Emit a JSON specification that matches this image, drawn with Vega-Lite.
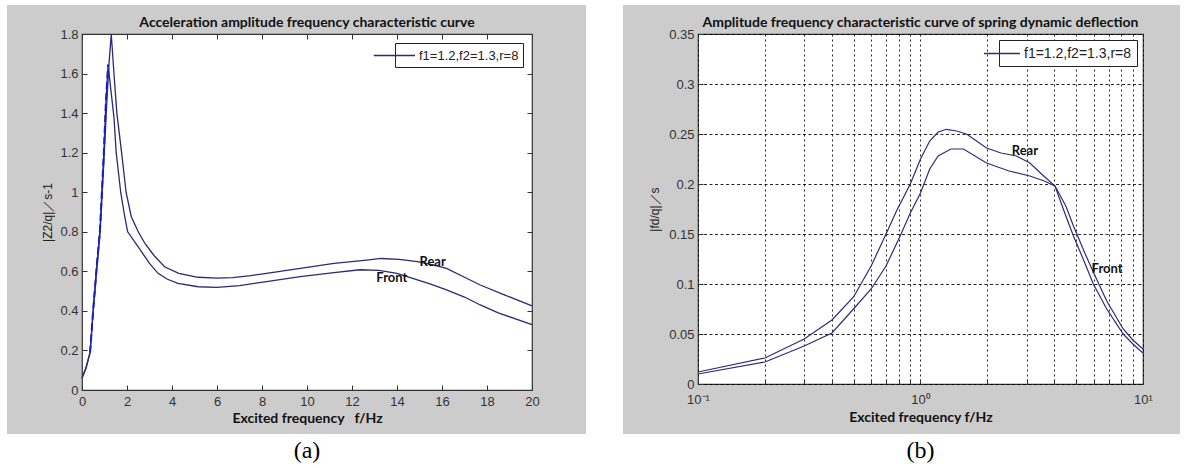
{
  "$schema": "https://vega.github.io/schema/vega-lite/v6.json",
  "background": "#cccccc",
  "padding": 0,
  "columns": 9,
  "spacing": 0,
  "bounds": "flush",
  "center": true,
  "resolve": {"scale": {"color": "independent"}, "legend": {"color": "independent"}},
  "datasets": {
    "accel": [
      {"curve":"Front","f":0,"v":0.06},{"curve":"Front","f":0.18,"v":0.115},{"curve":"Front","f":0.36,"v":0.19},{"curve":"Front","f":0.5,"v":0.41},{"curve":"Front","f":0.65,"v":0.62},{"curve":"Front","f":0.8,"v":0.81},{"curve":"Front","f":0.97,"v":1.2},{"curve":"Front","f":1.06,"v":1.45},{"curve":"Front","f":1.16,"v":1.645},{"curve":"Front","f":1.28,"v":1.52},{"curve":"Front","f":1.42,"v":1.38},{"curve":"Front","f":1.52,"v":1.2},{"curve":"Front","f":1.72,"v":1.0},{"curve":"Front","f":1.9,"v":0.876},{"curve":"Front","f":2.03,"v":0.8},{"curve":"Front","f":2.49,"v":0.725},{"curve":"Front","f":3.0,"v":0.64},{"curve":"Front","f":3.38,"v":0.59},{"curve":"Front","f":3.8,"v":0.56},{"curve":"Front","f":4.27,"v":0.539},{"curve":"Front","f":5.16,"v":0.522},{"curve":"Front","f":6.0,"v":0.519},{"curve":"Front","f":7.0,"v":0.528},{"curve":"Front","f":8.2,"v":0.548},{"curve":"Front","f":9.7,"v":0.573},{"curve":"Front","f":11.2,"v":0.593},{"curve":"Front","f":12.35,"v":0.608},{"curve":"Front","f":13.2,"v":0.605},{"curve":"Front","f":14.0,"v":0.59},{"curve":"Front","f":14.7,"v":0.565},{"curve":"Front","f":15.5,"v":0.535},{"curve":"Front","f":16.2,"v":0.506},{"curve":"Front","f":17.0,"v":0.47},{"curve":"Front","f":17.7,"v":0.43},{"curve":"Front","f":18.5,"v":0.39},{"curve":"Front","f":20,"v":0.33},
      {"curve":"Rear","f":0,"v":0.06},{"curve":"Rear","f":0.18,"v":0.11},{"curve":"Rear","f":0.36,"v":0.19},{"curve":"Rear","f":0.5,"v":0.4},{"curve":"Rear","f":0.65,"v":0.6},{"curve":"Rear","f":0.8,"v":0.79},{"curve":"Rear","f":0.97,"v":1.15},{"curve":"Rear","f":1.1,"v":1.45},{"curve":"Rear","f":1.2,"v":1.65},{"curve":"Rear","f":1.3,"v":1.8},{"curve":"Rear","f":1.42,"v":1.6},{"curve":"Rear","f":1.55,"v":1.4},{"curve":"Rear","f":1.76,"v":1.2},{"curve":"Rear","f":1.96,"v":1.0},{"curve":"Rear","f":2.19,"v":0.876},{"curve":"Rear","f":2.5,"v":0.8},{"curve":"Rear","f":2.79,"v":0.742},{"curve":"Rear","f":3.2,"v":0.68},{"curve":"Rear","f":3.67,"v":0.623},{"curve":"Rear","f":4.3,"v":0.59},{"curve":"Rear","f":5.16,"v":0.57},{"curve":"Rear","f":6.0,"v":0.566},{"curve":"Rear","f":6.7,"v":0.568},{"curve":"Rear","f":7.5,"v":0.578},{"curve":"Rear","f":8.2,"v":0.59},{"curve":"Rear","f":9.7,"v":0.615},{"curve":"Rear","f":11.2,"v":0.64},{"curve":"Rear","f":12.65,"v":0.657},{"curve":"Rear","f":13.3,"v":0.665},{"curve":"Rear","f":14.1,"v":0.66},{"curve":"Rear","f":14.9,"v":0.649},{"curve":"Rear","f":15.5,"v":0.635},{"curve":"Rear","f":16.2,"v":0.615},{"curve":"Rear","f":17.0,"v":0.57},{"curve":"Rear","f":17.7,"v":0.531},{"curve":"Rear","f":18.8,"v":0.48},{"curve":"Rear","f":20,"v":0.425}
    ],
    "labelsA": [
      {"text":"Rear","f":15.0,"v":0.647},
      {"text":"Front","f":13.08,"v":0.566}
    ],
    "defl": [
      {"curve":"Rear","f":0.1,"v":0.012},{"curve":"Rear","f":0.2,"v":0.026},{"curve":"Rear","f":0.3,"v":0.045},{"curve":"Rear","f":0.4,"v":0.064},{"curve":"Rear","f":0.5,"v":0.087},{"curve":"Rear","f":0.6,"v":0.118},{"curve":"Rear","f":0.7,"v":0.15},{"curve":"Rear","f":0.78,"v":0.173},{"curve":"Rear","f":0.9,"v":0.2},{"curve":"Rear","f":1.0,"v":0.225},{"curve":"Rear","f":1.1,"v":0.243},{"curve":"Rear","f":1.2,"v":0.252},{"curve":"Rear","f":1.31,"v":0.2547},{"curve":"Rear","f":1.45,"v":0.253},{"curve":"Rear","f":1.61,"v":0.25},{"curve":"Rear","f":1.98,"v":0.236},{"curve":"Rear","f":2.3,"v":0.231},{"curve":"Rear","f":2.7,"v":0.228},{"curve":"Rear","f":3.1,"v":0.221},{"curve":"Rear","f":3.5,"v":0.21},{"curve":"Rear","f":4.02,"v":0.198},{"curve":"Rear","f":4.5,"v":0.168},{"curve":"Rear","f":4.87,"v":0.148},{"curve":"Rear","f":5.5,"v":0.12},{"curve":"Rear","f":5.98,"v":0.1},{"curve":"Rear","f":6.87,"v":0.075},{"curve":"Rear","f":8.15,"v":0.05},{"curve":"Rear","f":9.0,"v":0.04},{"curve":"Rear","f":10,"v":0.031},
      {"curve":"Front","f":0.1,"v":0.01},{"curve":"Front","f":0.2,"v":0.022},{"curve":"Front","f":0.3,"v":0.038},{"curve":"Front","f":0.4,"v":0.051},{"curve":"Front","f":0.5,"v":0.075},{"curve":"Front","f":0.6,"v":0.095},{"curve":"Front","f":0.7,"v":0.118},{"curve":"Front","f":0.81,"v":0.148},{"curve":"Front","f":0.9,"v":0.171},{"curve":"Front","f":1.0,"v":0.191},{"curve":"Front","f":1.1,"v":0.215},{"curve":"Front","f":1.2,"v":0.228},{"curve":"Front","f":1.37,"v":0.235},{"curve":"Front","f":1.56,"v":0.235},{"curve":"Front","f":1.98,"v":0.221},{"curve":"Front","f":2.5,"v":0.213},{"curve":"Front","f":3.1,"v":0.208},{"curve":"Front","f":3.6,"v":0.203},{"curve":"Front","f":4.02,"v":0.198},{"curve":"Front","f":4.5,"v":0.178},{"curve":"Front","f":4.87,"v":0.158},{"curve":"Front","f":5.5,"v":0.13},{"curve":"Front","f":5.98,"v":0.112},{"curve":"Front","f":6.87,"v":0.083},{"curve":"Front","f":8.15,"v":0.055},{"curve":"Front","f":9.0,"v":0.044},{"curve":"Front","f":10,"v":0.035}
    ],
    "labelsB": [
      {"text":"Rear","f":2.57,"v":0.233},
      {"text":"Front","f":5.875,"v":0.115}
    ],
    "capA": [{"caption":"(a)"}],
    "capB": [{"caption":"(b)"}]
  },
  "config": {
    "view": {"stroke": null},
    "axis": {"labelFont":"Liberation Sans","labelFontSize":13,"labelColor":"#333","tickColor":"#333","domain":false,"tickSize":-5,"labelFlush":false,"titleFont":"Lato","titleFontSize":14,"titleFontWeight":"bold","titleColor":"#111","grid":false},
    "axisY": {"titleFont":"Liberation Sans","titleFontWeight":"normal","titleFontSize":12,"titleColor":"#222"},
    "legend": {"orient":"top-right","fillColor":"white","strokeColor":"#222","padding":4,"symbolStrokeWidth":1.3,"labelFont":"Liberation Sans","labelFontSize":13,"labelColor":"#222","labelOffset":3,"symbolSize":225},
    "title": {"font":"Lato","fontSize":14,"fontWeight":"bold","color":"#111","anchor":"middle","frame":"group"}
  },
  "concat": [
    {"width":7,"height":5,"data":{"values":[]},"mark":"point","view":{"fill":"white"}},
    {"width":75,"height":5,"data":{"values":[]},"mark":"point","view":{"fill":"white"}},
    {"width":450,"height":5,"data":{"values":[]},"mark":"point","view":{"fill":"white"}},
    {"width":54,"height":5,"data":{"values":[]},"mark":"point","view":{"fill":"white"}},
    {"width":37,"height":5,"data":{"values":[]},"mark":"point","view":{"fill":"white"}},
    {"width":75,"height":5,"data":{"values":[]},"mark":"point","view":{"fill":"white"}},
    {"width":445,"height":5,"data":{"values":[]},"mark":"point","view":{"fill":"white"}},
    {"width":37,"height":5,"data":{"values":[]},"mark":"point","view":{"fill":"white"}},
    {"width":9,"height":5,"data":{"values":[]},"mark":"point","view":{"fill":"white"}},

    {"width":7,"height":29,"data":{"values":[]},"mark":"point","view":{"fill":"white"}},
    {"width":1,"height":1,"data":{"values":[]},"mark":"point"},
    {"width":1,"height":1,"data":{"values":[]},"mark":"point"},
    {"width":1,"height":1,"data":{"values":[]},"mark":"point"},
    {"width":37,"height":29,"data":{"values":[]},"mark":"point","view":{"fill":"white"}},
    {"width":1,"height":1,"data":{"values":[]},"mark":"point"},
    {"width":1,"height":1,"data":{"values":[]},"mark":"point"},
    {"width":1,"height":1,"data":{"values":[]},"mark":"point"},
    {"width":9,"height":29,"data":{"values":[]},"mark":"point","view":{"fill":"white"}},

    {"width":7,"height":356,"data":{"values":[]},"mark":"point","view":{"fill":"white"}},
    {"width":1,"height":1,"data":{"values":[]},"mark":"point"},
    {
      "width":450,"height":356,
      "view":{"stroke":"#333","strokeWidth":1.2,"fill":"white"},
      "title":{"text":"Acceleration amplitude frequency characteristic curve","offset":-2},
      "data":{"name":"accel"},
      "layer":[
        {
          "mark":{"type":"line","strokeWidth":1.3},
          "encoding":{
            "x":{"field":"f","type":"quantitative","scale":{"domain":[0,20],"nice":false},
                 "axis":{"values":[0,2,4,6,8,10,12,14,16,18,20],"title":"Excited frequency\u00a0\u00a0\u00a0f/Hz","labelPadding":10,"titlePadding":3}},
            "y":{"field":"v","type":"quantitative","scale":{"domain":[0,1.8],"nice":false},
                 "axis":{"values":[0,0.2,0.4,0.6,0.8,1,1.2,1.4,1.6,1.8],"format":"~g","title":"|Z2/q|／s-1","labelPadding":9,"titlePadding":5}},
            "detail":{"field":"curve"},
            "color":{"datum":"f1=1.2,f2=1.3,r=8","scale":{"range":["#2a2a75"]},
                     "legend":{"title":null,"offset":9,"symbolType":"M-4.5,0H1","padding":4}}
          }
        },
        {
          "transform":[{"filter":"datum.curve == 'Front' && datum.f >= 0.3 && datum.f <= 1.16"}],
          "mark":{"type":"line","color":"#1a1ad0","strokeWidth":2,"strokeDash":[7,4]},
          "encoding":{
            "x":{"field":"f","type":"quantitative","axis":{"orient":"top","values":[0,2,4,6,8,10,12,14,16,18,20],"labels":false,"title":null}},
            "y":{"field":"v","type":"quantitative","axis":{"orient":"right","values":[0,0.2,0.4,0.6,0.8,1,1.2,1.4,1.6,1.8],"labels":false,"title":null}}
          }
        },
        {
          "data":{"name":"labelsA"},
          "mark":{"type":"text","align":"left","baseline":"middle","font":"Lato","fontWeight":"bold","fontSize":13,"color":"#111"},
          "encoding":{
            "x":{"field":"f","type":"quantitative","axis":null},
            "y":{"field":"v","type":"quantitative","axis":null},
            "text":{"field":"text"}
          }
        }
      ],
      "resolve":{"axis":{"x":"independent","y":"independent"}}
    },
    {"width":1,"height":1,"data":{"values":[]},"mark":"point"},
    {"width":37,"height":356,"data":{"values":[]},"mark":"point","view":{"fill":"white"}},
    {"width":1,"height":1,"data":{"values":[]},"mark":"point"},
    {
      "width":445,"height":350,
      "view":{"stroke":"#333","strokeWidth":1.2,"fill":"white"},
      "title":{"text":"Amplitude frequency characteristic curve of spring dynamic deflection","offset":-2},
      "layer":[
        {
          "data":{"name":"defl"},
          "mark":{"type":"line","strokeWidth":1.2},
          "encoding":{
            "x":{"field":"f","type":"quantitative","scale":{"type":"log","domain":[0.1,10],"nice":false},
                 "axis":{"values":[0.1,0.2,0.3,0.4,0.5,0.6,0.7,0.8,0.9,1,2,3,4,5,6,7,8,9,10],
                         "labelExpr":"datum.value == 0.1 ? '10⁻¹' : datum.value == 1 ? '10⁰' : datum.value == 10 ? '10¹' : ''",
                         "grid":true,"gridColor":"#000","gridDash":[2,3],"gridOpacity":0.85,
                         "title":"Excited frequency f/Hz","labelPadding":14,"titlePadding":4}},
            "y":{"field":"v","type":"quantitative","scale":{"domain":[0,0.35],"nice":false},
                 "axis":{"values":[0,0.05,0.1,0.15,0.2,0.25,0.3,0.35],"format":"~g",
                         "grid":true,"gridColor":"#000","gridDash":[3,2.5],"gridOpacity":0.85,
                         "title":"|fd/q|／s","labelPadding":9,"titlePadding":7}},
            "detail":{"field":"curve"},
            "color":{"datum":"f1=1.2,f2=1.3,r=8","scale":{"range":["#2d2d78"]},
                     "legend":{"title":null,"offset":6,"symbolType":"M-3.8,0H1","padding":5,"labelFontSize":14}}
          }
        },
        {
          "data":{"name":"labelsB"},
          "mark":{"type":"text","align":"left","baseline":"middle","font":"Lato","fontWeight":"bold","fontSize":13,"color":"#111"},
          "encoding":{
            "x":{"field":"f","type":"quantitative"},
            "y":{"field":"v","type":"quantitative"},
            "text":{"field":"text"}
          }
        }
      ]
    },
    {"width":1,"height":1,"data":{"values":[]},"mark":"point"},
    {"width":9,"height":356,"data":{"values":[]},"mark":"point","view":{"fill":"white"}},

    {"width":7,"height":44,"data":{"values":[]},"mark":"point","view":{"fill":"white"}},
    {"width":1,"height":1,"data":{"values":[]},"mark":"point"},
    {"width":1,"height":1,"data":{"values":[]},"mark":"point"},
    {"width":1,"height":1,"data":{"values":[]},"mark":"point"},
    {"width":37,"height":44,"data":{"values":[]},"mark":"point","view":{"fill":"white"}},
    {"width":1,"height":1,"data":{"values":[]},"mark":"point"},
    {"width":1,"height":1,"data":{"values":[]},"mark":"point"},
    {"width":1,"height":1,"data":{"values":[]},"mark":"point"},
    {"width":9,"height":44,"data":{"values":[]},"mark":"point","view":{"fill":"white"}},

    {"width":7,"height":34,"data":{"values":[]},"mark":"point","view":{"fill":"white"}},
    {"width":75,"height":34,"data":{"values":[]},"mark":"point","view":{"fill":"white"}},
    {"width":450,"height":34,"data":{"name":"capA"},"mark":{"type":"text","font":"Liberation Serif","fontSize":24,"color":"#000"},"encoding":{"text":{"field":"caption"}},"view":{"fill":"white"}},
    {"width":54,"height":34,"data":{"values":[]},"mark":"point","view":{"fill":"white"}},
    {"width":37,"height":34,"data":{"values":[]},"mark":"point","view":{"fill":"white"}},
    {"width":75,"height":34,"data":{"values":[]},"mark":"point","view":{"fill":"white"}},
    {"width":445,"height":34,"data":{"name":"capB"},"mark":{"type":"text","font":"Liberation Serif","fontSize":24,"color":"#000"},"encoding":{"text":{"field":"caption"}},"view":{"fill":"white"}},
    {"width":37,"height":34,"data":{"values":[]},"mark":"point","view":{"fill":"white"}},
    {"width":9,"height":34,"data":{"values":[]},"mark":"point","view":{"fill":"white"}}
  ]
}
